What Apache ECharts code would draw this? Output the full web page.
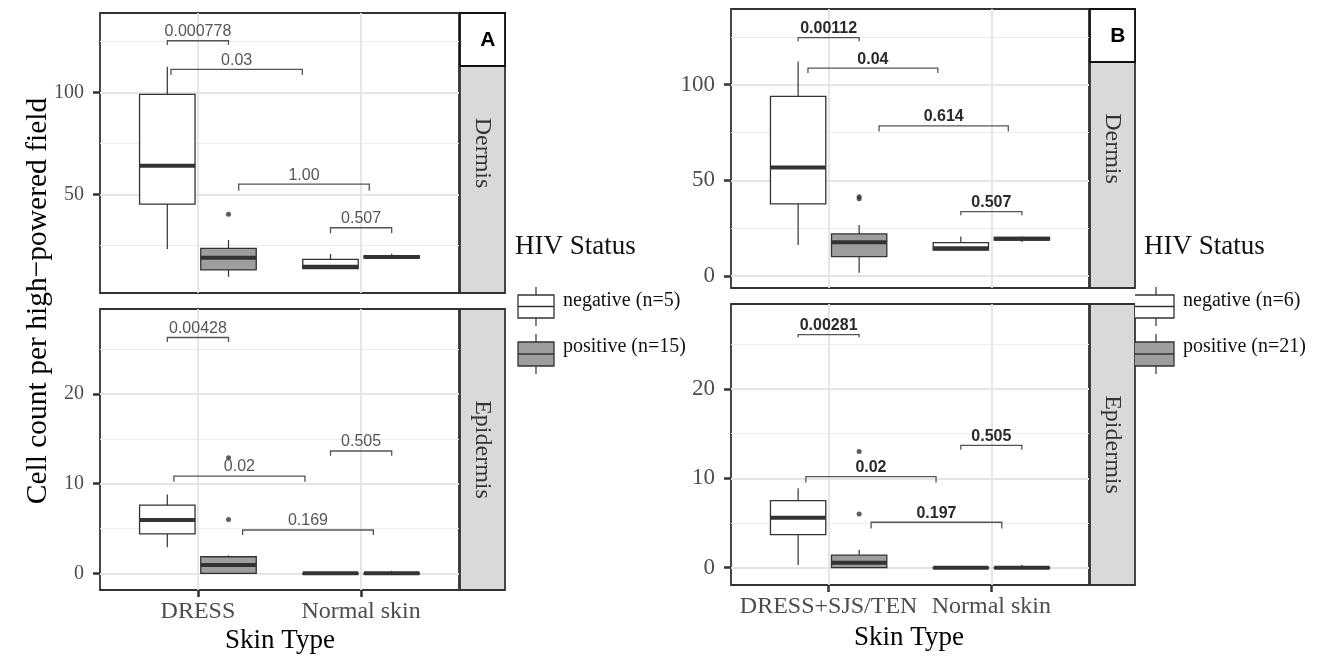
<!DOCTYPE html>
<html>
<head>
<meta charset="utf-8">
<script src="https://cdn.jsdelivr.net/npm/echarts@6.0.0/dist/echarts.min.js"></script>
<style>
html,body{margin:0;padding:0;background:#fff;}
#chart{width:1320px;height:659px;}
</style>
</head>
<body>
<div id="chart"></div>
<script>
// ---------------- DATA ----------------
const catsA = ['DRESS', 'Normal skin'];
const catsB = ['DRESS+SJS/TEN', 'Normal skin'];
const facetLabels = ['Dermis', 'Epidermis'];
const groupLabelsA = ['negative (n=5)', 'positive (n=15)'];
const groupLabelsB = ['negative (n=6)', 'positive (n=21)'];

// box stats per category: [category, lowerWhisker, q1, median, q3, upperWhisker]
const aDermisNeg = [[1, 23.2, 45.2, 64.0, 99.0, 112.5], [2, 13.6, 13.6, 14.5, 18.1, 20.7]];
const aDermisPos = [[1, 9.6, 12.9, 18.9, 23.5, 27.6], [2, 18.8, 18.8, 19.3, 19.8, 20.8]];
const aDermisOut = [[1, 40.2]];
const aEpiNeg = [[1, 2.9, 4.4, 5.95, 7.6, 8.8], [2, 0, 0, 0, 0, 0]];
const aEpiPos = [[1, 0, 0, 0.93, 1.85, 2.0], [2, 0, 0, 0, 0, 0.3]];
const aEpiOut = [[1, 6.0], [1, 12.9]];

const bDermisNeg = [[1, 16.2, 37.7, 56.7, 93.9, 112.2], [2, 13.6, 13.6, 14.5, 17.4, 20.6]];
const bDermisPos = [[1, 1.7, 10.1, 17.6, 22.0, 26.7], [2, 17.8, 18.8, 19.5, 20.2, 20.6]];
const bDermisOut = [[1, 40.4], [1, 41.4]];
const bEpiNeg = [[1, 0.3, 3.7, 5.6, 7.5, 8.9], [2, 0, 0, 0, 0, 0]];
const bEpiPos = [[1, 0, 0, 0.56, 1.4, 2.0], [2, 0, 0, 0, 0, 0.3]];
const bEpiOut = [[1, 6.0], [1, 13.0]];

// p-value brackets: [x1, x2, lineValue, tipValue, label]
const aDermisBr = [[0.8125, 1.1875, 125.3, 123.2, '0.000778'], [0.835, 1.64, 111.3, 108.5, '0.03'],
                   [1.25, 2.05, 55.0, 51.8, '1.00'], [1.8125, 2.1875, 33.6, 30.9, '0.507']];
const aEpiBr = [[0.8125, 1.1875, 26.3, 25.8, '0.00428'], [0.853, 1.656, 10.85, 10.2, '0.02'],
                [1.274, 2.075, 4.83, 4.27, '0.169'], [1.8125, 2.1875, 13.64, 13.1, '0.505']];
const bDermisBr = [[0.8125, 1.1875, 124.6, 122.8, '0.00112'], [0.873, 1.671, 108.7, 106.2, '0.04'],
                   [1.31, 2.104, 78.5, 75.6, '0.614'], [1.8125, 2.1875, 33.7, 31.7, '0.507']];
const bEpiBr = [[0.8125, 1.1875, 26.1, 25.8, '0.00281'], [0.86, 1.66, 10.2, 9.55, '0.02'],
                [1.261, 2.064, 5.09, 4.4, '0.197'], [1.8125, 2.1875, 13.7, 13.2, '0.505']];

// tick values
const dermisMajor = [50, 100];
const dermisMajorB = [0, 50, 100];
const dermisMinor = [25, 75, 125];
const epiMajor = [0, 10, 20];
const epiMinor = [5, 15, 25];

// ---------------- LAYOUT ----------------
const SERIF = '"Liberation Serif", "Times New Roman", serif';
const SANS = '"Liberation Sans", Arial, sans-serif';
const DODGE = 0.1875, BOX_W = 0.34;
const NEG_FILL = '#ffffff', POS_FILL = '#9e9e9e', INK = '#333333';

const panels = [
  {grid: {left: 100, top: 13, width: 359, height: 280}, yMin: 1.6, yMax: 138.9, major: dermisMajor, minor: dermisMinor,
   cats: catsA, neg: aDermisNeg, pos: aDermisPos, out: aDermisOut, br: aDermisBr, bottom: false, yFont: 20, brBold: false},
  {grid: {left: 100, top: 309, width: 359, height: 281}, yMin: -1.86, yMax: 29.48, major: epiMajor, minor: epiMinor,
   cats: catsA, neg: aEpiNeg, pos: aEpiPos, out: aEpiOut, br: aEpiBr, bottom: true, yFont: 20, brBold: false},
  {grid: {left: 731, top: 9, width: 358, height: 279}, yMin: -6.28, yMax: 139.6, major: dermisMajorB, minor: dermisMinor,
   cats: catsB, neg: bDermisNeg, pos: bDermisPos, out: bDermisOut, br: bDermisBr, bottom: false, yFont: 23, brBold: true},
  {grid: {left: 731, top: 304, width: 358, height: 281}, yMin: -1.94, yMax: 29.53, major: epiMajor, minor: epiMinor,
   cats: catsB, neg: bEpiNeg, pos: bEpiPos, out: bEpiOut, br: bEpiBr, bottom: true, yFont: 23, brBold: true}
];

function boxRender(fill, offset) {
  return function (params, api) {
    const xc = api.value(0) + offset;
    const lo = api.coord([xc, api.value(1)]);
    const q1 = api.coord([xc, api.value(2)]);
    const md = api.coord([xc, api.value(3)]);
    const q3 = api.coord([xc, api.value(4)]);
    const hi = api.coord([xc, api.value(5)]);
    const w = api.size([BOX_W, 0])[0];
    const x0 = q1[0] - w / 2;
    return {
      type: 'group',
      children: [
        {type: 'line', shape: {x1: hi[0], y1: hi[1], x2: q3[0], y2: q3[1]}, style: {stroke: INK, lineWidth: 1.2}},
        {type: 'line', shape: {x1: q1[0], y1: q1[1], x2: lo[0], y2: lo[1]}, style: {stroke: INK, lineWidth: 1.2}},
        {type: 'rect', shape: {x: x0, y: q3[1], width: w, height: Math.max(q1[1] - q3[1], 0.5)},
         style: {fill: fill, stroke: INK, lineWidth: 1.3}},
        {type: 'line', shape: {x1: x0, y1: md[1], x2: x0 + w, y2: md[1]}, style: {stroke: INK, lineWidth: 4}}
      ]
    };
  };
}

function bracketRender(list, bold) {
  return function (params, api) {
    const p1 = api.coord([api.value(0), api.value(2)]);
    const p2 = api.coord([api.value(1), api.value(2)]);
    const t1 = api.coord([api.value(0), api.value(3)]);
    const t2 = api.coord([api.value(1), api.value(3)]);
    return {
      type: 'group',
      children: [
        {type: 'polyline', shape: {points: [t1, p1, p2, t2]}, style: {stroke: '#555', lineWidth: 1.3, fill: null}},
        {type: 'text', x: (p1[0] + p2[0]) / 2, y: p1[1] - 1,
         style: {text: list[params.dataIndex][4], fill: bold ? '#2a2a2a' : '#555',
                 font: (bold ? 'bold ' : '') + '16px ' + SANS, align: 'center', verticalAlign: 'bottom'}}
      ]
    };
  };
}

const grids = [], xAxes = [], yAxes = [], series = [];
panels.forEach((p, i) => {
  grids.push(Object.assign({show: true, borderColor: INK, borderWidth: 1.8, backgroundColor: '#fff'}, p.grid));
  xAxes.push({
    gridIndex: i, type: 'value', min: 0.4, max: 2.6, position: 'bottom',
    axisLine: {show: false, onZero: false},
    axisTick: {show: p.bottom, customValues: [1, 2], length: 7, lineStyle: {color: INK, width: 2.5}},
    axisLabel: {show: p.bottom, customValues: [1, 2], margin: 10, color: '#4d4d4d', fontFamily: SERIF, fontSize: 24,
                formatter: v => p.cats[Math.round(v) - 1]},
    splitLine: {show: true, lineStyle: {color: '#e4e4e4', width: 1.8}}
  });
  yAxes.push({
    gridIndex: i, type: 'value', min: p.yMin, max: p.yMax, position: 'left',
    axisLine: {show: false, onZero: false},
    axisTick: {show: true, customValues: p.major, length: 7, lineStyle: {color: INK, width: 2.5}},
    axisLabel: {customValues: p.major, margin: 16, color: '#4d4d4d', fontFamily: SERIF, fontSize: p.yFont},
    splitLine: {show: true, lineStyle: {color: '#e4e4e4', width: 1.8}}
  });
  yAxes.push({
    gridIndex: i, type: 'value', min: p.yMin, max: p.yMax, position: 'left',
    axisLine: {show: false, onZero: false},
    axisTick: {show: false, customValues: p.minor},
    axisLabel: {show: false, customValues: p.minor},
    splitLine: {show: true, lineStyle: {color: '#ededed', width: 1.2}}
  });
  const yIdx = i * 2;
  series.push({type: 'custom', xAxisIndex: i, yAxisIndex: yIdx, renderItem: boxRender(NEG_FILL, -DODGE),
               data: p.neg, encode: {x: 0, y: [1, 2, 3, 4, 5]}, z: 3});
  series.push({type: 'custom', xAxisIndex: i, yAxisIndex: yIdx, renderItem: boxRender(POS_FILL, DODGE),
               data: p.pos, encode: {x: 0, y: [1, 2, 3, 4, 5]}, z: 3});
  series.push({type: 'scatter', xAxisIndex: i, yAxisIndex: yIdx, symbolSize: 5,
               itemStyle: {color: INK}, data: p.out.map(o => [o[0] + DODGE, o[1]]), z: 4});
  series.push({type: 'custom', xAxisIndex: i, yAxisIndex: yIdx, renderItem: bracketRender(p.br, p.brBold),
               data: p.br.map(b => [b[0], b[1], b[2], b[3]]), encode: {x: [0, 1], y: [2, 3]}, z: 5});
});

// strips, tags, titles, legends (layout decoration)
const graphic = [];
function strip(x, y, w, h, label) {
  graphic.push({type: 'rect', shape: {x: x, y: y, width: w, height: h},
                style: {fill: '#d9d9d9', stroke: INK, lineWidth: 1.8}});
  graphic.push({type: 'text', x: x + w / 2, y: y + h / 2, rotation: -Math.PI / 2,
                style: {text: label, font: '24px ' + SERIF, fill: '#333', align: 'center', verticalAlign: 'middle'}});
}
function tag(x, y, w, h, label) {
  graphic.push({type: 'rect', shape: {x: x, y: y, width: w, height: h},
                style: {fill: '#fff', stroke: '#111', lineWidth: 1.8}});
  graphic.push({type: 'text', x: x + w * 0.62, y: y + h / 2 + 1,
                style: {text: label, font: 'bold 21px ' + SANS, fill: '#000', align: 'center', verticalAlign: 'middle'}});
}
strip(460, 13, 45, 280, facetLabels[0]);
strip(460, 309, 45, 281, facetLabels[1]);
strip(1090, 9, 45, 279, facetLabels[0]);
strip(1090, 304, 45, 281, facetLabels[1]);
tag(460, 13, 45, 53, 'A');
tag(1090, 9, 45, 53, 'B');

graphic.push({type: 'text', x: 38, y: 301, rotation: Math.PI / 2,
              style: {text: 'Cell count per high\u2212powered field', font: '29.5px ' + SERIF, fill: '#000',
                      align: 'center', verticalAlign: 'middle'}});
graphic.push({type: 'text', x: 280, y: 641,
              style: {text: 'Skin Type', font: '27px ' + SERIF, fill: '#000', align: 'center', verticalAlign: 'middle'}});
graphic.push({type: 'text', x: 909, y: 638,
              style: {text: 'Skin Type', font: '27px ' + SERIF, fill: '#000', align: 'center', verticalAlign: 'middle'}});

function legend(titleX, x, labels, cutLeft) {
  graphic.push({type: 'text', x: titleX, y: 247,
                style: {text: 'HIV Status', font: '27px ' + SERIF, fill: '#111', align: 'left', verticalAlign: 'middle'}});
  const keys = [{y0: 295, y1: 318, fill: NEG_FILL}, {y0: 342, y1: 366, fill: POS_FILL}];
  keys.forEach((k, j) => {
    const x0 = x, x1 = x + 36, xm = x + 18, ym = (k.y0 + k.y1) / 2;
    graphic.push({type: 'line', shape: {x1: xm, y1: k.y0 - 8, x2: xm, y2: k.y1 + 8}, style: {stroke: INK, lineWidth: 1.2}});
    if (cutLeft) {
      graphic.push({type: 'rect', shape: {x: x0 - 3, y: k.y0, width: 39, height: k.y1 - k.y0}, style: {fill: k.fill}});
      graphic.push({type: 'polyline', shape: {points: [[x0 - 3, k.y0], [x1, k.y0], [x1, k.y1], [x0 - 3, k.y1]]},
                    style: {stroke: INK, lineWidth: 1.3, fill: null}});
      graphic.push({type: 'line', shape: {x1: x0 - 3, y1: ym, x2: x1, y2: ym}, style: {stroke: INK, lineWidth: 1.5}});
    } else {
      graphic.push({type: 'rect', shape: {x: x0, y: k.y0, width: 36, height: k.y1 - k.y0},
                    style: {fill: k.fill, stroke: INK, lineWidth: 1.3}});
      graphic.push({type: 'line', shape: {x1: x0, y1: ym, x2: x1, y2: ym}, style: {stroke: INK, lineWidth: 1.5}});
    }
    graphic.push({type: 'text', x: x + 45, y: j === 0 ? 301 : 347,
                  style: {text: labels[j], font: '20px ' + SERIF, fill: '#111', align: 'left', verticalAlign: 'middle'}});
  });
}
legend(515, 518, groupLabelsA, false);
legend(1144, 1138, groupLabelsB, true);

const chart = echarts.init(document.getElementById('chart'), null, {renderer: 'canvas'});
chart.setOption({
  backgroundColor: '#fff',
  animation: false,
  grid: grids,
  xAxis: xAxes,
  yAxis: yAxes,
  series: series,
  graphic: graphic
});
</script>
</body>
</html>
